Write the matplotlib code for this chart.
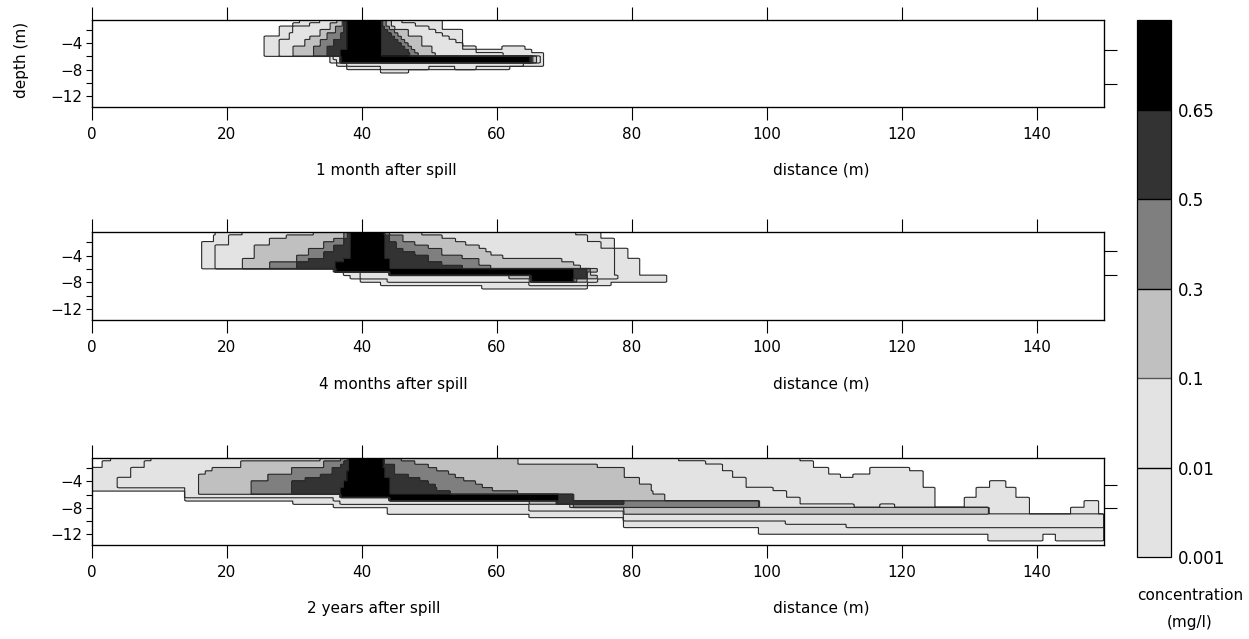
import numpy as np
import matplotlib
matplotlib.use("Agg")
from matplotlib import pyplot as plt

# concentration classes (mg/l)
levels = [0.001, 0.01, 0.1, 0.3, 0.5, 0.65, 1.0]
level_labels = ["0.001", "0.01", "0.1", "0.3", "0.5", "0.65"]
class_conc = [0.0001, 0.005, 0.05, 0.2, 0.4, 0.6, 0.8]
fill_colors = ["#e3e3e3", "#e3e3e3", "#c0c0c0", "#7f7f7f", "#333333", "#000000"]

x_ticks = [0, 20, 40, 60, 80, 100, 120, 140]
depth_ticks = [-4, -8, -12]
depth_minor = [-2, -6, -10]
panel_titles = ["1 month after spill", "4 months after spill", "2 years after spill"]
right_ticks = [[-5.1, -10.1], [-3.4, -6.9], [-4.6, -8.0]]

# plume extents read per 0.5 m depth row (from -0.5 m downwards);
# every "a-b" span (distance in m) raises the concentration class by one
month1_rows = [
    "31-52 34-46 36.5-44.4 37.2-43.7 37.5-43.2 37.8-43",
    "29.9-52 32.3-48 35.5-44.4 37.2-43.7 37.5-43.2 37.8-43",
    "27.9-52 30-50 35.5-45 36.2-44.2 37.5-43.5 37.8-43",
    "27.9-54.9 30-51 34-46.9 36.2-44.9 37.5-44 37.8-43",
    "27.9-54.9 29.4-52 34-46.9 35-45.4 37-44.4 37.8-43",
    "25.7-54.9 29.4-53 32.4-48.9 35-45.9 37-44.9 37.8-43",
    "25.7-54.9 27.9-54 31.6-48.9 34-46.4 36-45.4 37.8-43",
    "25.7-54.9 27.9-54.8 31.6-48.9 34-46.9 36-45.9 37.8-43",
    "25.7-57 61-64.2 27.9-54.8 29.9-50.4 32.8-47.4 34.8-46.4 37.8-43",
    "25.7-65.2 27.9-57 29.9-50.4 32.8-47.9 34.8-46.9 37-43",
    "25.7-66.9 27.9-60.8 29.9-50.9 32.8-48.4 34.8-47.2 37-43",
    "35.5-66.9 36-66.5 37-66 37-65.5 37-65.2 37-64.8",
    "35.5-66.9 36.5-66.5 37-66 37-65.5 37-65.2 37-64.8",
    "36.5-66.9 38-64",
    "38-62 43-50 54-57",
    "43-47",
]

month4_rows = [
    "18.3-75.3 22.5-71.6 33-49 37.3-44.2 38-43.4 38.3-43.4",
    "18.1-75.3 20.5-73.3 29-52 37.3-46.1 38-44.2 38.3-43.4",
    "18.1-77.5 20.5-73.3 26.4-54 36-46.1 37.3-44.2 38.3-43.4",
    "16.5-77.5 20.3-75.3 26.4-55.5 34.3-48 37.3-45.2 38.3-43.4",
    "16.5-77.5 18.3-75.3 24.2-57.3 34.3-49.8 36-45.2 38.3-43.4",
    "16.3-79.5 18.3-77.3 24.2-58.5 32.1-52 36-46.1 38.3-43.4",
    "16.3-79.5 18.3-77.3 24.2-59.2 32.1-52 34.3-48 38.3-43.4",
    "16.3-79.5 18.3-77.3 24.2-61 30.4-54.8 34.3-49.8 38.3-43.4",
    "16.3-81.2 18.3-77.3 22.5-69.6 30.4-57.3 32.1-49.8 37.3-44.2",
    "16.3-81.2 18.3-77.3 22.5-71.3 26.4-57.3 30.4-52 36.2-44.2",
    "16.3-81.2 18.3-77.3 22.5-72.5 26.4-59.2 30.4-54.8 36.2-44.2",
    "36-81.2 36.2-77.3 36.2-75 36.2-74 36.2-73.3 36.2-71.3",
    "37.5-81.2 40-77.3 44.2-74 44.2-73.5 44.2-73.3 44.2-71.3",
    "38.5-85.2 40-78 62-75 65-73.5 65.2-73.3 65.2-71.3",
    "40-85.2 44-75 65-73.3 65.2-72 65.2-71.3 65.2-71.3",
    "43-77 65-73.3",
    "58-73.3",
]

year2_rows = [
    "3-105 9-87 34-63.2 37-46 38-43.5 38.1-43.2",
    "1.7-106.9 7.9-90.8 22.2-63.2 34.3-48 37.5-43.5 38.1-43.2",
    "1.7-107 7.9-93.3 22.2-75 34.3-50 37-45 38.1-43.2",
    "0-109.1 115.3-121.2 5.9-93.3 17.8-79 29.6-51.1 35.7-45 38.1-43.5",
    "0-109.1 115.3-123.2 5.9-95 17-79 29.6-53 35.7-45 37.8-43.5",
    "0-111 113-123.2 5.9-95 16-79 26.2-54 34-47 37.8-43.5",
    "0-123.2 3.9-97 16-81.2 26.2-55.1 31.6-48.6 37.8-44.2",
    "0-123.2 133.1-135.3 3.9-97 16-81.2 23.7-57 29.6-50 37.3-44.2",
    "0-123.2 133.1-135.3 3.9-97 16-83 23.7-58 29.6-51 37.3-44.2",
    "0-124.9 131.1-137 13.8-101 16-83 23.7-59.3 29.6-51.1 36.8-44.2",
    "13.8-124.9 131.1-137 13.8-103 16-83.2 23.7-63.2 29.6-53.1 36.8-44.2",
    "13.8-124.9 131.1-137 14-103 36.8-84.9 36.8-71.4 36.8-71.4 36.8-69.1",
    "14-124.9 129.4-139 36-105 44.2-84.9 44.2-71.4 44.2-71.4 44.2-69.1",
    "30-124.9 129.4-139 147.1-149.1 37-105 65-99 69-99 69-79",
    "36-124.9 129.4-139 147.1-149.1 65-113 117-119 71-99 71.4-99",
    "44-139 145.1-149.1 65-133 79-133",
    "44-139 145.1-149.1 79-133 79-133",
    "65-150 79-150",
    "79-150 79-150",
    "79-150 103-150",
    "79-150 112-150",
    "99-150",
    "99-150",
    "133-141 143-150",
    "133-141 143-150",
    "",
]

n_rows = 26
x = np.linspace(0, 150, 601)
y = np.linspace(-0.5, -13.5, 131)
row_of_y = np.minimum(((-0.5 - y) / 0.5 + 1e-6).astype(int), n_rows - 1)


def class_field(rows):
    field = np.zeros((n_rows, x.size), dtype=int)
    for j, row in enumerate(rows):
        for span in row.split():
            a, b = map(float, span.split("-"))
            field[j] += (x >= a) & (x < b)
    return np.array(class_conc)[field[row_of_y]]


fig = plt.figure(figsize=(12.49, 6.39), dpi=100)
boxes = [[0.0734, 0.8326, 0.8105, 0.1362],
         [0.0734, 0.4992, 0.8105, 0.1377],
         [0.0734, 0.1471, 0.8105, 0.1362]]
title_y = [170, 384, 608]
title_x = [386, 393, 374]

for i, rows in enumerate([month1_rows, month4_rows, year2_rows]):
    ax = fig.add_axes(boxes[i])
    conc = class_field(rows)
    cs = ax.contourf(x, y, conc, levels=levels, colors=fill_colors)
    ax.contour(x, y, conc, levels=levels[:-1], colors="#2a2a2a", linewidths=0.8)
    ax.set_xlim(0, 150)
    ax.set_ylim(-13.6, -0.5)
    ax.set_xticks(x_ticks)
    ax.set_yticks(depth_ticks)
    ax.set_yticks(depth_minor, minor=True)
    ax.tick_params(axis="x", direction="out", top=True, bottom=True,
                   length=9.5, width=0.8, labelsize=11, pad=5)
    ax.tick_params(axis="y", which="both", direction="out", length=4.5,
                   width=0.8, labelsize=11, pad=2)
    for sp in ax.spines.values():
        sp.set_linewidth(0.9)

    tw = ax.twinx()
    tw.set_ylim(ax.get_ylim())
    tw.set_yticks(right_ticks[i])
    tw.tick_params(axis="y", direction="out", length=9.5, width=0.8, labelright=False)

    fig.text(title_x[i] / 1249, 1 - title_y[i] / 639, panel_titles[i],
             ha="center", va="center", fontsize=11)
    fig.text(821 / 1249, 1 - title_y[i] / 639, "distance (m)",
             ha="center", va="center", fontsize=11)

fig.text(22 / 1249, 1 - 60 / 639, "depth (m)", rotation=90,
         ha="center", va="center", fontsize=11)

cax = fig.add_axes([0.9103, 0.1283, 0.0272, 0.8404])
cbar = fig.colorbar(cs, cax=cax)
cbar.set_ticks(levels[:-1])
cbar.set_ticklabels(level_labels)
cbar.ax.tick_params(length=0, labelsize=12, pad=5)
cbar.add_lines(levels[1:-1], ["k", "#555555", "k", "k", "k"], [1.0] * 5)
cbar.outline.set_linewidth(0.9)
fig.text(1190 / 1249, 1 - 595 / 639, "concentration", ha="center", va="center", fontsize=11)
fig.text(1190 / 1249, 1 - 622 / 639, "(mg/l)", ha="center", va="center", fontsize=11)

fig.savefig("out.png", dpi=100)
